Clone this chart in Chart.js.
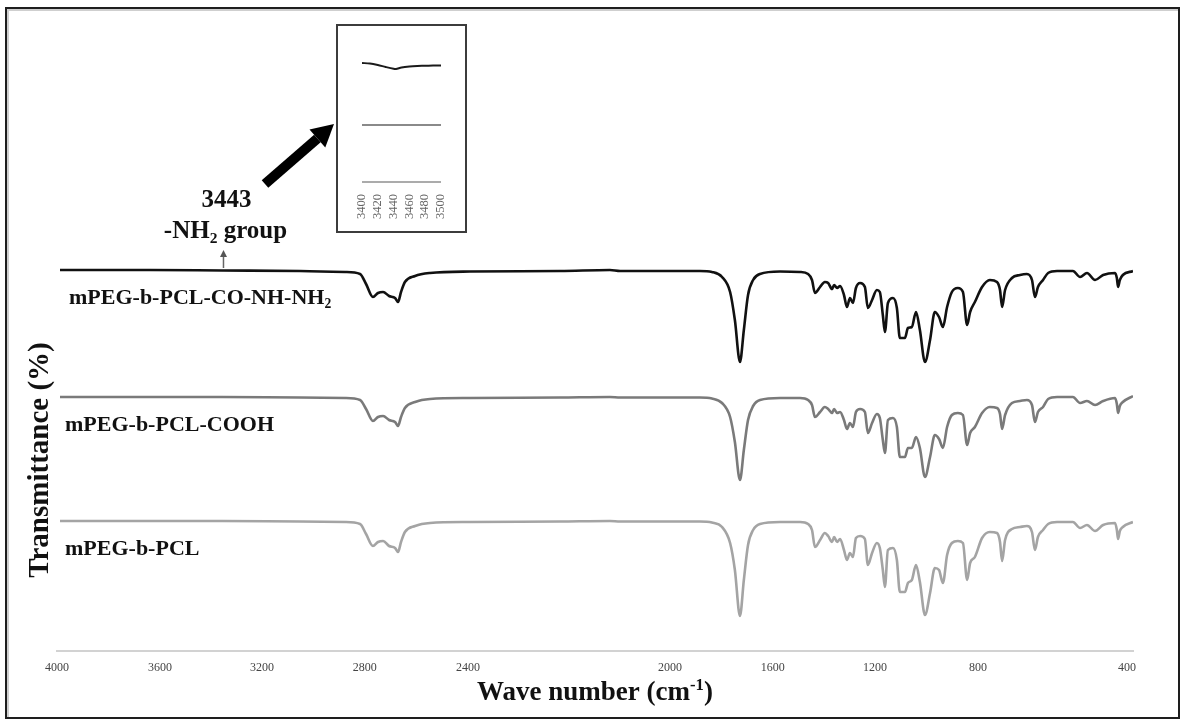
<!DOCTYPE html>
<html>
<head>
<meta charset="utf-8">
<script src="https://cdn.jsdelivr.net/npm/chart.js@4.4.0/dist/chart.umd.min.js"></script>
<style>
  html, body { margin: 0; padding: 0; background: #fff; }
  #wrap { position: relative; width: 1185px; height: 722px; overflow: hidden; }
  #main { position: absolute; left: 0; top: 0; }
  #frame { position: absolute; left: 5px; top: 7px; width: 1175px; height: 712px; box-sizing: border-box;
           border: 2px solid #1e1e1e; box-shadow: inset 2px 2px 0 #cfcfcf; pointer-events: none; }
  #inset { position: absolute; left: 336px; top: 24px; width: 127px; height: 205px; border: 2px solid #3c3c3c; background: #fff; }
  #inset canvas { display: block; }
</style>
</head>
<body>
<div id="wrap">
  <canvas id="main" width="1185" height="722"></canvas>
  <div id="inset"><canvas id="insetChart" width="127" height="205"></canvas></div>
  <div id="frame"></div>
</div>
<script>
// wave numbers (cm-1), shared by the three spectra
var wavenumbers = [3990, 3689, 3448, 3187, 3036, 2986, 2966, 2943, 2926, 2909,
    2889, 2869, 2859, 2849, 2836, 2802, 2752, 2618, 2317, 2150,
    2116, 1849, 1809, 1775, 1748, 1732, 1715, 1702, 1688, 1671,
    1648, 1581,
    1514, 1487, 1474, 1464, 1447, 1431, 1420, 1407, 1400, 1390,
    1380, 1367, 1357, 1347, 1337, 1327, 1313, 1297, 1287, 1273,
    1257, 1247, 1237, 1230, 1220, 1203, 1190, 1180, 1163, 1153,
    1140, 1126, 1113, 1096, 1079, 1063, 1049, 1036, 1022, 1006,
    986, 969, 955, 945, 929, 905, 879, 855, 845, 838,
    828, 805, 778, 755, 738, 728, 718, 701, 684, 654,
    601, 577, 554, 527, 500, 460, 454, 450, 444, 434,
    400];

// transmittance, stacked (arbitrary units)
var hydrazide = [76.2, 76.2, 76.1, 76.0, 75.8, 75.4, 73.4, 70.8, 71.6, 71.8,
    71.0, 70.6, 69.8, 71.8, 73.8, 75.0, 75.6, 75.9, 76.0, 76.2,
    76.0, 76.0, 75.8, 74.8, 71.8, 66.2, 57.8, 64.2, 71.2, 74.2,
    75.4, 75.9,
    75.8, 75.4, 74.2, 71.6, 72.8, 73.8, 73.6, 72.4, 73.2, 72.6,
    73.0, 71.2, 68.8, 70.6, 69.6, 72.6, 73.6, 72.8, 68.6, 70.2,
    72.2, 71.8, 67.2, 63.8, 69.6, 70.6, 68.6, 62.6, 62.6, 64.6,
    64.8, 67.8, 64.2, 57.8, 62.2, 67.8, 66.8, 64.8, 68.8, 71.8,
    72.6, 71.8, 65.2, 67.8, 69.8, 72.8, 74.2, 73.8, 72.2, 68.8,
    72.2, 74.6, 75.2, 75.4, 74.2, 70.8, 72.8, 74.2, 75.6, 76.0,
    76.0, 74.8, 75.6, 74.2, 75.2, 75.6, 74.6, 72.8, 74.2, 75.2,
    76.0];

var carboxyl = [50.8, 50.8, 50.8, 50.7, 50.6, 50.2, 48.4, 46.0, 46.8, 47.0,
    46.2, 45.8, 45.0, 46.8, 48.6, 49.8, 50.4, 50.6, 50.7, 50.8,
    50.7, 50.7, 50.5, 49.6, 46.8, 41.8, 34.2, 40.2, 46.2, 49.0,
    50.2, 50.6,
    50.6, 50.2, 49.2, 46.8, 47.8, 48.8, 48.4, 47.6, 48.4, 47.6,
    47.8, 46.2, 44.4, 45.6, 44.8, 47.8, 48.4, 47.8, 43.6, 45.6,
    47.4, 46.6, 42.2, 39.6, 46.2, 46.6, 44.8, 38.8, 38.8, 40.6,
    40.6, 42.8, 40.6, 34.8, 38.8, 43.2, 42.4, 40.6, 44.8, 47.2,
    47.6, 47.2, 41.2, 43.6, 44.8, 47.6, 48.8, 48.6, 47.4, 44.4,
    47.2, 49.6, 50.0, 50.2, 49.2, 45.8, 47.8, 48.8, 50.4, 50.8,
    50.8, 49.6, 50.0, 49.2, 50.0, 50.6, 49.4, 47.6, 49.0, 49.8,
    51.0];

var copolymer = [26.0, 26.0, 26.0, 25.9, 25.8, 25.4, 23.4, 21.0, 21.8, 22.0,
    21.0, 20.6, 19.8, 21.8, 23.8, 25.0, 25.6, 25.8, 25.9, 26.0,
    25.9, 25.9, 25.7, 24.8, 21.6, 16.2, 7.0, 14.2, 21.2, 24.2,
    25.4, 25.8,
    25.8, 25.4, 24.2, 20.8, 22.2, 23.6, 23.0, 21.8, 22.8, 21.8,
    22.4, 20.2, 18.2, 19.6, 18.8, 22.6, 23.0, 22.4, 17.2, 19.6,
    21.6, 20.6, 16.2, 12.8, 20.2, 20.6, 18.2, 11.8, 11.8, 13.6,
    14.2, 17.2, 13.8, 7.2, 11.6, 16.6, 16.2, 13.6, 19.2, 21.6,
    22.0, 21.6, 14.2, 17.6, 18.8, 22.6, 23.8, 23.6, 21.8, 18.0,
    22.2, 24.4, 24.8, 25.0, 23.8, 20.2, 22.8, 24.2, 25.4, 25.8,
    25.8, 24.6, 25.2, 24.0, 25.2, 25.6, 24.2, 22.4, 24.0, 24.8,
    25.8];

var seriesNames = ['mPEG-b-PCL-CO-NH-NH₂', 'mPEG-b-PCL-COOH', 'mPEG-b-PCL'];
var tickLabels = ['4000', '3600', '3200', '2800', '2400', '2000', '1600', '1200', '800', '400'];
// where the labels sit along the axis in the picture
var tickSpots = [4000, 3655, 3314, 2970, 2625, 1949, 1605, 1263, 919, 420];
var peakMark = 3443;

// inset: 3400-3500 cm-1 zoom
var insetWave = [3400, 3410, 3420, 3430, 3440, 3443, 3450, 3460, 3470, 3480, 3490, 3500];
var insetTop = [24.4, 24.3, 24.0, 23.6, 23.24, 23.2, 23.5, 23.7, 23.8, 23.84, 23.9, 23.9];
var insetMid = [12.0, 12.0, 12.0, 12.0, 12.0, 12.0, 12.0, 12.0, 12.0, 12.0, 12.0, 12.0];
var insetLow = [0.6, 0.6, 0.6, 0.6, 0.6, 0.6, 0.6, 0.6, 0.6, 0.6, 0.6, 0.6];
var insetTicks = [3400, 3420, 3440, 3460, 3480, 3500];

var SERIF = "'Liberation Serif', 'Times New Roman', serif";

function pairs(xs, ys) {
    return xs.map(function(x, i) { return {x: x, y: ys[i]}; });
}

function toParts(s) {
    return s.split(/(₂|⁻¹)/).filter(function(p) { return p.length; }).map(function(p) {
        if (p === '₂') return ['2', 1];
        if (p === '⁻¹') return ['-1', -1];
        return [p, 0];
    });
}

// text with sub/superscripts, y = baseline
function drawRich(ctx, s, x, y, size, align) {
    var parts = toParts(s);
    var widths = parts.map(function(p) {
        ctx.font = 'bold ' + (p[1] ? size * 0.62 : size) + 'px ' + SERIF;
        return ctx.measureText(p[0]).width;
    });
    var total = widths.reduce(function(a, b) { return a + b; }, 0);
    var cx = align === 'center' ? x - total / 2 : x;
    ctx.textAlign = 'left';
    ctx.textBaseline = 'alphabetic';
    parts.forEach(function(p, i) {
        ctx.font = 'bold ' + (p[1] ? size * 0.62 : size) + 'px ' + SERIF;
        var dy = p[1] === 1 ? size * 0.2 : (p[1] === -1 ? -size * 0.36 : 0);
        ctx.fillText(p[0], cx, y + dy);
        cx += widths[i];
    });
}

var annotations = {
    id: 'annotations',
    afterDraw: function(chart) {
        var ctx = chart.ctx;
        var xs = chart.scales.x;
        var ys = chart.scales.y;
        ctx.save();
        ctx.fillStyle = '#111';

        // series names under each trace
        [hydrazide, carboxyl, copolymer].forEach(function(d, i) {
            var y = ys.getPixelForValue(d[0]) + 34;
            drawRich(ctx, seriesNames[i], i === 0 ? 69 : 65, y, 22, 'left');
        });

        // 3443 / -NH2 group
        var px = xs.getPixelForValue(peakMark);
        drawRich(ctx, String(peakMark), px + 3, 207, 25, 'center');
        drawRich(ctx, '-NH₂ group', px + 2, 238, 25, 'center');

        // small arrow
        ctx.strokeStyle = '#666';
        ctx.fillStyle = '#555';
        ctx.lineWidth = 1.5;
        ctx.beginPath();
        ctx.moveTo(px, 268);
        ctx.lineTo(px, 256);
        ctx.stroke();
        ctx.beginPath();
        ctx.moveTo(px, 250);
        ctx.lineTo(px - 3.5, 257);
        ctx.lineTo(px + 3.5, 257);
        ctx.closePath();
        ctx.fill();

        // big arrow toward the inset
        var tx = 265, ty = 184, hx = 334, hy = 124;
        var ang = Math.atan2(hy - ty, hx - tx);
        var back = 22;
        var bx = hx - back * Math.cos(ang), by = hy - back * Math.sin(ang);
        ctx.strokeStyle = '#000';
        ctx.fillStyle = '#000';
        ctx.lineWidth = 10;
        ctx.lineCap = 'butt';
        ctx.beginPath();
        ctx.moveTo(tx, ty);
        ctx.lineTo(bx, by);
        ctx.stroke();
        var hw = 12;
        ctx.beginPath();
        ctx.moveTo(hx, hy);
        ctx.lineTo(bx + hw * Math.sin(ang), by - hw * Math.cos(ang));
        ctx.lineTo(bx - hw * Math.sin(ang), by + hw * Math.cos(ang));
        ctx.closePath();
        ctx.fill();

        // axis titles
        ctx.fillStyle = '#111';
        drawRich(ctx, 'Wave number (cm⁻¹)', (chart.chartArea.left + chart.chartArea.right) / 2, 700, 27, 'center');
        ctx.translate(39, 460);
        ctx.rotate(-Math.PI / 2);
        drawRich(ctx, 'Transmittance (%)', 0, 9, 29, 'center');
        ctx.restore();
    }
};

function traceStyle(color) {
    return {
        borderColor: color,
        borderWidth: 2.6,
        pointRadius: 0,
        fill: false,
        cubicInterpolationMode: 'monotone'
    };
}

var mainCtx = document.getElementById('main').getContext('2d');
var mainChart = new Chart(mainCtx, {
    type: 'line',
    data: {
        datasets: [
            Object.assign({label: seriesNames[0], data: pairs(wavenumbers, hydrazide)}, traceStyle('#111')),
            Object.assign({label: seriesNames[1], data: pairs(wavenumbers, carboxyl)}, traceStyle('#7a7a7a')),
            Object.assign({label: seriesNames[2], data: pairs(wavenumbers, copolymer)}, traceStyle('#a4a4a4'))
        ]
    },
    options: {
        responsive: false,
        animation: false,
        layout: { padding: { left: 57, right: 52, top: 20, bottom: 0 } },
        plugins: { legend: { display: false }, tooltip: { enabled: false } },
        scales: {
            x: {
                type: 'linear',
                min: 400,
                max: 4000,
                reverse: true,
                grid: { display: false, drawTicks: false },
                border: { display: true, color: '#d2d2d2', width: 2 },
                afterBuildTicks: function(axis) {
                    axis.ticks = tickSpots.map(function(v) { return {value: v}; });
                },
                afterFit: function(axis) { axis.height = 71; },
                ticks: {
                    autoSkip: false,
                    maxRotation: 0,
                    padding: 10,
                    color: '#444',
                    font: { family: SERIF, size: 12 },
                    callback: function(v, i) { return tickLabels[i]; }
                }
            },
            y: {
                display: false,
                min: 0,
                max: 126.2
            }
        }
    },
    plugins: [annotations]
});

var insetCtx = document.getElementById('insetChart').getContext('2d');
var insetChart = new Chart(insetCtx, {
    type: 'line',
    data: {
        datasets: [
            {data: pairs(insetWave, insetTop), borderColor: '#1a1a1a', borderWidth: 2, pointRadius: 0, tension: 0.3},
            {data: pairs(insetWave, insetMid), borderColor: '#8a8a8a', borderWidth: 2, pointRadius: 0},
            {data: pairs(insetWave, insetLow), borderColor: '#ababab', borderWidth: 2, pointRadius: 0}
        ]
    },
    options: {
        responsive: false,
        animation: false,
        layout: { padding: { left: 24, right: 23, top: 19, bottom: 0 } },
        plugins: { legend: { display: false }, tooltip: { enabled: false } },
        scales: {
            x: {
                type: 'linear',
                min: 3400,
                max: 3500,
                grid: { display: false, drawTicks: false },
                border: { display: false },
                afterBuildTicks: function(axis) {
                    axis.ticks = insetTicks.map(function(v) { return {value: v}; });
                },
                afterFit: function(axis) { axis.height = 46; },
                ticks: {
                    autoSkip: false,
                    minRotation: 90,
                    maxRotation: 90,
                    padding: 9,
                    color: '#666',
                    font: { family: SERIF, size: 12.5 },
                    callback: function(v) { return String(v); }
                }
            },
            y: { display: false, min: 0, max: 28 }
        }
    }
});
</script>
</body>
</html>
